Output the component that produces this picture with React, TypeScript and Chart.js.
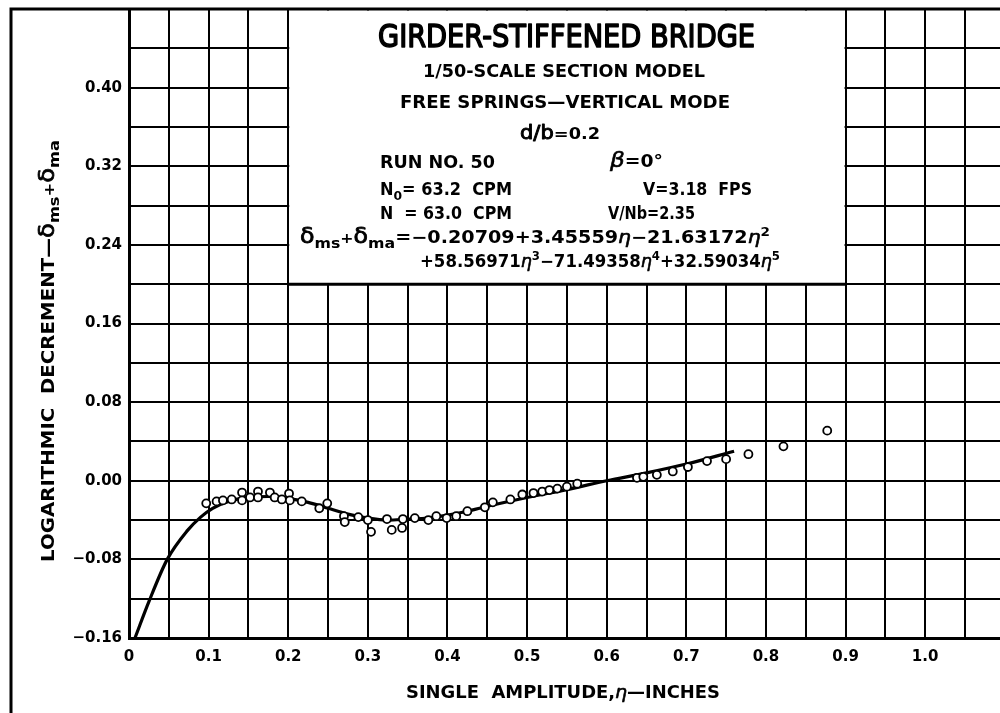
import React, { useEffect, useRef } from 'react';
import { Chart, registerables } from 'chart.js';

Chart.register(...registerables);

// ---- Data ----
const pointEta = [
  0.097, 0.110, 0.118, 0.129, 0.142, 0.142, 0.152, 0.162, 0.162, 0.177,
  0.183, 0.192, 0.201, 0.202, 0.217, 0.239, 0.249, 0.270, 0.271, 0.288,
  0.300, 0.304, 0.324, 0.330, 0.343, 0.344, 0.359, 0.376, 0.386, 0.399,
  0.411, 0.425, 0.447, 0.457, 0.479, 0.494, 0.508, 0.519, 0.528, 0.538,
  0.550, 0.563, 0.638, 0.646, 0.663, 0.683, 0.702, 0.726, 0.750, 0.778,
  0.822, 0.877,
];
const pointDecrement = [
  -0.023, -0.021, -0.020, -0.019, -0.012, -0.020, -0.017, -0.011, -0.017, -0.012,
  -0.017, -0.019, -0.013, -0.020, -0.021, -0.028, -0.023, -0.036, -0.042, -0.037,
  -0.040, -0.052, -0.039, -0.050, -0.048, -0.039, -0.038, -0.040, -0.036, -0.038,
  -0.036, -0.031, -0.027, -0.022, -0.019, -0.014, -0.0125, -0.011, -0.0095, -0.008,
  -0.006, -0.003, 0.003, 0.004, 0.006, 0.0095, 0.014, 0.020, 0.022, 0.027,
  0.035, 0.051,
];

const curveEta = [
  0.0075, 0.025, 0.048, 0.073, 0.09, 0.105, 0.125, 0.15, 0.175, 0.2,
  0.225, 0.25, 0.275, 0.3, 0.325, 0.35, 0.375, 0.4, 0.425, 0.45,
  0.5, 0.55, 0.6, 0.65, 0.7, 0.76,
];
const curveDecrement = [
  -0.160, -0.123, -0.080, -0.051, -0.037, -0.028, -0.021, -0.017, -0.016, -0.018,
  -0.022, -0.028, -0.034, -0.038, -0.040, -0.039, -0.038, -0.035, -0.031, -0.026,
  -0.017, -0.009, 0.000, 0.008, 0.017, 0.030,
];

const xTickValues = [
  0, 0.05, 0.1, 0.15, 0.2, 0.25, 0.3, 0.35, 0.4, 0.45, 0.5,
  0.55, 0.6, 0.65, 0.7, 0.75, 0.8, 0.85, 0.9, 0.95, 1.0, 1.05,
];
const xTickLabels = [
  '0', '', '0.1', '', '0.2', '', '0.3', '', '0.4', '', '0.5',
  '', '0.6', '', '0.7', '', '0.8', '', '0.9', '', '1.0', '',
];
const yTickValues = [
  -0.16, -0.12, -0.08, -0.04, 0, 0.04, 0.08, 0.12, 0.16,
  0.20, 0.24, 0.28, 0.32, 0.36, 0.40, 0.44, 0.48,
];
const yTickLabels = [
  '\u22120.16', '', '\u22120.08', '', '0.00', '', '0.08', '', '0.16',
  '', '0.24', '', '0.32', '', '0.40', '', '',
];

const FONT = '"DejaVu Sans"';

type Seg = { t: string; size: number; dy?: number; italic?: boolean; bold?: boolean; stroke?: number };

function fontOf(s: Seg) {
  return `${s.italic ? 'italic ' : ''}${s.bold === false ? '' : 'bold '}${s.size}px ${FONT}`;
}

function drawSegs(ctx: CanvasRenderingContext2D, segs: Seg[], x: number, y: number, width: number) {
  const widths = segs.map((s) => {
    ctx.font = fontOf(s);
    return ctx.measureText(s.t).width;
  });
  const total = widths.reduce((a, b) => a + b, 0);
  const sx = width / total;
  ctx.save();
  ctx.translate(x, y);
  ctx.scale(sx, 1);
  ctx.textAlign = 'left';
  ctx.textBaseline = 'alphabetic';
  ctx.fillStyle = '#000';
  ctx.strokeStyle = '#000';
  ctx.lineJoin = 'round';
  let cx = 0;
  segs.forEach((s, i) => {
    ctx.font = fontOf(s);
    ctx.fillText(s.t, cx, s.dy || 0);
    if (s.stroke) {
      ctx.lineWidth = s.stroke;
      ctx.strokeText(s.t, cx, s.dy || 0);
    }
    cx += widths[i];
  });
  ctx.restore();
}

const M = 17; // main small text size
const eta = (): Seg => ({ t: '\u03B7', size: 18, italic: true, bold: false, stroke: 0.6 });
const sup = (t: string): Seg => ({ t, size: 12, dy: -7 });
const delta = (): Seg => ({ t: '\u03B4', size: 21, bold: false, stroke: 0.8 });

const overlayPlugin = {
  id: 'overlay',
  afterDraw(chart: any) {
    const ctx: CanvasRenderingContext2D = chart.ctx;
    const xs = chart.scales.x;
    const ys = chart.scales.y;
    const area = chart.chartArea;

    // white caption box over the grid
    const bx0 = xs.getPixelForValue(0.2);
    const bx1 = xs.getPixelForValue(0.9);
    const by1 = ys.getPixelForValue(0.2);
    ctx.save();
    ctx.fillStyle = '#fff';
    ctx.fillRect(bx0 + 1, area.top + 1.5, bx1 - bx0 - 2, by1 - area.top - 2.5);
    ctx.strokeStyle = '#000';
    ctx.lineWidth = 3;
    ctx.beginPath();
    ctx.moveTo(bx0, by1);
    ctx.lineTo(bx1, by1);
    ctx.stroke();

    // outer frame (left and top)
    ctx.lineWidth = 3;
    ctx.beginPath();
    ctx.moveTo(11, 713);
    ctx.lineTo(11, 9);
    ctx.lineTo(1000, 9);
    ctx.stroke();
    ctx.restore();

    // caption texts
    drawSegs(ctx, [{ t: 'GIRDER-STIFFENED BRIDGE', size: 32, bold: false, stroke: 1.6 }], 378, 47, 377);
    drawSegs(ctx, [{ t: '1/50-SCALE SECTION MODEL', size: M }], 423, 77, 282);
    drawSegs(ctx, [{ t: 'FREE SPRINGS\u2014VERTICAL MODE', size: M }], 400, 108, 330);
    drawSegs(ctx, [{ t: 'd/b', size: 19, bold: false, stroke: 0.9 }, { t: '=0.2', size: 16 }], 520, 139, 80);
    drawSegs(ctx, [{ t: 'RUN NO. 50', size: M }], 380, 168, 115);
    drawSegs(ctx, [{ t: '\u03B2', size: 21, italic: true, bold: false, stroke: 0.6 }, { t: '=0\u00B0', size: M }], 610, 167, 53);
    drawSegs(ctx, [{ t: 'N', size: M }, { t: '0', size: 13, dy: 5 }, { t: '= 63.2  CPM', size: M }], 380, 195, 132);
    drawSegs(ctx, [{ t: 'V=3.18  FPS', size: M }], 643, 195, 109);
    drawSegs(ctx, [{ t: 'N  = 63.0  CPM', size: M }], 380, 219, 132);
    drawSegs(ctx, [{ t: 'V/Nb=2.35', size: M }], 608, 219, 87);
    drawSegs(
      ctx,
      [
        delta(),
        { t: 'ms', size: 14, dy: 5 },
        { t: '+', size: 14 },
        delta(),
        { t: 'ma', size: 14, dy: 5 },
        { t: '=\u22120.20709+3.45559', size: M },
        eta(),
        { t: '\u221221.63172', size: M },
        eta(),
        sup('2'),
      ],
      300,
      243,
      470,
    );
    drawSegs(
      ctx,
      [
        { t: '+58.56971', size: M },
        eta(),
        sup('3'),
        { t: '\u221271.49358', size: M },
        eta(),
        sup('4'),
        { t: '+32.59034', size: M },
        eta(),
        sup('5'),
      ],
      420,
      267,
      360,
    );

    // x-axis title
    drawSegs(
      ctx,
      [{ t: 'SINGLE  AMPLITUDE,', size: M }, eta(), { t: '\u2014INCHES', size: M }],
      406,
      698,
      314,
    );

    // y-axis title (rotated)
    ctx.save();
    ctx.translate(54, 562);
    ctx.rotate(-Math.PI / 2);
    drawSegs(
      ctx,
      [
        { t: 'LOGARITHMIC  DECREMENT\u2014', size: M },
        delta(),
        { t: 'ms', size: 14, dy: 5 },
        { t: '+', size: 14 },
        delta(),
        { t: 'ma', size: 14, dy: 5 },
      ],
      0,
      0,
      422,
    );
    ctx.restore();
  },
};

export default function App() {
  const canvasRef = useRef<HTMLCanvasElement | null>(null);

  useEffect(() => {
    if (!canvasRef.current) return;
    const tickFont = { family: FONT, size: 15, weight: 'bold' as const };
    const chart = new Chart(canvasRef.current, {
      type: 'scatter',
      data: {
        datasets: [
          {
            type: 'scatter',
            label: 'measured',
            data: pointEta.map((x, i) => ({ x, y: pointDecrement[i] })),
            pointStyle: 'circle',
            pointRadius: 4,
            pointBorderWidth: 1.8,
            borderColor: '#000',
            backgroundColor: '#fff',
            pointBackgroundColor: '#fff',
            pointBorderColor: '#000',
            order: 0,
          } as any,
          {
            type: 'line',
            label: 'fit',
            data: curveEta.map((x, i) => ({ x, y: curveDecrement[i] })),
            borderColor: '#000',
            borderWidth: 3.2,
            pointRadius: 0,
            fill: false,
            cubicInterpolationMode: 'monotone',
            order: 1,
          } as any,
        ],
      },
      options: {
        animation: false,
        responsive: false,
        devicePixelRatio: 1,
        layout: { autoPadding: false, padding: { top: 9, left: 0, right: 0, bottom: 0 } },
        plugins: {
          legend: { display: false },
          tooltip: { enabled: false },
          title: { display: false },
        },
        scales: {
          x: {
            type: 'linear',
            min: 0,
            max: 1.094,
            afterBuildTicks: (s: any) => {
              s.ticks = xTickValues.map((v) => ({ value: v }));
            },
            afterFit: (s: any) => {
              s.height = 75;
              s.paddingLeft = 0;
              s.paddingRight = 0;
            },
            grid: { color: '#000', lineWidth: 2, drawTicks: false },
            border: { color: '#000', width: 3 },
            ticks: {
              autoSkip: false,
              maxRotation: 0,
              padding: 10,
              color: '#000',
              font: tickFont,
              callback: (_v: any, i: number) => xTickLabels[i],
            },
          },
          y: {
            type: 'linear',
            min: -0.16,
            max: 0.48,
            afterBuildTicks: (s: any) => {
              s.ticks = yTickValues.map((v) => ({ value: v }));
            },
            afterFit: (s: any) => {
              s.width = 129;
              s.paddingTop = 0;
              s.paddingBottom = 0;
            },
            grid: { color: '#000', lineWidth: 2, drawTicks: false },
            border: { color: '#000', width: 3 },
            ticks: {
              autoSkip: false,
              padding: 7,
              color: '#000',
              font: tickFont,
              callback: (_v: any, i: number) => yTickLabels[i],
            },
          },
        },
      } as any,
      plugins: [overlayPlugin],
    });
    return () => chart.destroy();
  }, []);

  return (
    <div style={{ position: 'absolute', left: 0, top: 0, width: 1000, height: 713, background: '#fff' }}>
      <canvas ref={canvasRef} width={1000} height={713} style={{ display: 'block' }} />
    </div>
  );
}
